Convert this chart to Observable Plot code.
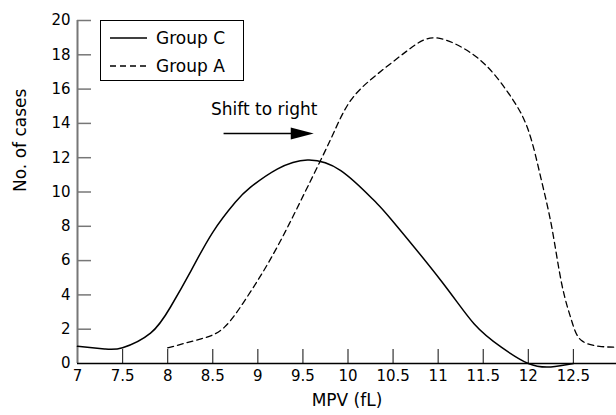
<!DOCTYPE html>
<html>
<head>
<meta charset="utf-8">
<script src="https://cdn.jsdelivr.net/npm/d3@7"></script>
<script src="https://cdn.jsdelivr.net/npm/@observablehq/plot@0.6"></script>
<style>
  html, body { margin: 0; padding: 0; background: #fff; }
  #wrap { position: relative; width: 616px; height: 415px; font-family: "DejaVu Sans", sans-serif; }
  #legend { position: absolute; left: 100px; top: 20px; width: 144px; height: 61px; border: 1px solid #000; box-sizing: border-box; background: #fff; }
  #legend .row { position: absolute; left: 0; height: 24px; display: flex; align-items: center; font-size: 17px; color: #000; }
  #legend svg { margin-left: 9px; margin-right: 9px; }
</style>
</head>
<body>
<div id="wrap"></div>
<script>
// ---- data ----
const groupCx = [7.0, 7.3, 7.5, 7.81, 8.03, 8.26, 8.5, 8.75, 8.92, 9.22, 9.55, 9.92, 10.29, 10.48, 11.03, 11.4, 11.7, 12.0, 12.25, 12.5];
const groupCy = [1.0, 0.85, 0.92, 1.77, 3.28, 5.42, 7.65, 9.4, 10.28, 11.35, 11.87, 11.25, 9.5, 8.4, 4.84, 2.3, 0.95, 0.0, -0.2, 0.0];
const groupAx = [8.0, 8.37, 8.63, 8.88, 9.11, 9.33, 9.55, 9.81, 10.03, 10.33, 10.66, 10.94, 11.26, 11.55, 11.81, 12.0, 12.14, 12.26, 12.37, 12.48, 12.59, 12.81, 13.0];
const groupAy = [0.91, 1.44, 2.12, 3.87, 5.81, 7.95, 10.28, 13.1, 15.34, 16.89, 18.25, 18.99, 18.44, 17.28, 15.53, 13.6, 10.8, 7.95, 4.65, 2.5, 1.34, 0.99, 0.95];
const seriesNames = ["Group C", "Group A"];
const xTickLabels = [7, 7.5, 8, 8.5, 9, 9.5, 10, 10.5, 11, 11.5, 12, 12.5];
const xTickMarks = [7.5, 8, 8.5, 9, 9.5, 10, 10.5, 11, 11.5, 12, 12.5];
const yTickLabels = [0, 2, 4, 6, 8, 10, 12, 14, 16, 18, 20];
const yTickMarks = [2, 4, 6, 8, 10, 12, 14, 16, 18, 20];
const xTitle = "MPV (fL)";
const yTitle = "No. of cases";
const annotationText = "Shift to right";
const arrowX1 = [8.62], arrowX2 = [9.62], arrowY = [13.41];
const annotationX = [8.48], annotationY = [14.8];

const dataC = groupCx.map((x, i) => ({x, y: groupCy[i]}));
const dataA = groupAx.map((x, i) => ({x, y: groupAy[i]}));

const arrowHead = {
  draw(ctx) {
    ctx.moveTo(0, 0);
    ctx.lineTo(-23, -6);
    ctx.lineTo(-23, 6);
    ctx.closePath();
  }
};

const chart = Plot.plot({
  width: 616,
  height: 415,
  marginLeft: 77,
  marginRight: 0,
  marginTop: 20,
  marginBottom: 52,
  style: { fontFamily: "DejaVu Sans, sans-serif", fontSize: "15px", color: "#000", background: "#fff" },
  x: { domain: [7, 13], range: [77, 618] },
  y: { domain: [0, 20], range: [363, 20] },
  marks: [
    // tick marks pointing inward
    Plot.axisY(yTickMarks, { tickSize: 14, dx: 14, text: null, label: null, stroke: "#777", strokeWidth: 1.5 }),
    Plot.axisX(xTickMarks, { tickSize: 14, dy: -14, text: null, label: null, stroke: "#333", strokeWidth: 1.2 }),
    // tick labels
    Plot.axisY(yTickLabels, { tickSize: 0, tickPadding: 7, label: null, fontSize: 15 }),
    Plot.axisX(xTickLabels, { tickSize: 0, tickPadding: 7, label: null, fontSize: 15, tickFormat: d => String(d) }),
    // axis lines
    Plot.ruleX([7], { stroke: "#777", strokeWidth: 2 }),
    Plot.ruleY([0], { stroke: "#000", strokeWidth: 1.5 }),
    // series
    Plot.line(dataC, { x: "x", y: "y", curve: "natural", stroke: "#000", strokeWidth: 1.5 }),
    Plot.line(dataA, { x: "x", y: "y", curve: "natural", stroke: "#000", strokeWidth: 1.3, strokeDasharray: "6,4" }),
    // annotation
    Plot.text([annotationText], { x: () => annotationX[0], y: () => annotationY[0], textAnchor: "start", fontSize: 17 }),
    Plot.link([0], { x1: () => arrowX1[0], x2: () => arrowX2[0] - 0.15, y1: () => arrowY[0], y2: () => arrowY[0], stroke: "#000", strokeWidth: 1.5 }),
    Plot.dot([0], { x: () => arrowX2[0], y: () => arrowY[0], symbol: arrowHead, fill: "#000", stroke: "none" }),
    // axis titles
    Plot.text([xTitle], { frameAnchor: "bottom", dy: 42, fontSize: 17 }),
    Plot.text([yTitle], { frameAnchor: "left", dx: -57, rotate: -90, fontSize: 17 })
  ]
});

const wrap = document.getElementById("wrap");
wrap.appendChild(chart);

// legend
const legend = document.createElement("div");
legend.id = "legend";
seriesNames.forEach((name, i) => {
  const row = document.createElement("div");
  row.className = "row";
  row.style.top = (i === 0 ? 5 : 33) + "px";
  row.innerHTML = `<svg width="37" height="4"><line x1="0" y1="2" x2="37" y2="2" stroke="#000" stroke-width="1.5" ${i === 1 ? 'stroke-dasharray="6,4"' : ''}/></svg><span>${name}</span>`;
  legend.appendChild(row);
});
wrap.appendChild(legend);
</script>
</body>
</html>
